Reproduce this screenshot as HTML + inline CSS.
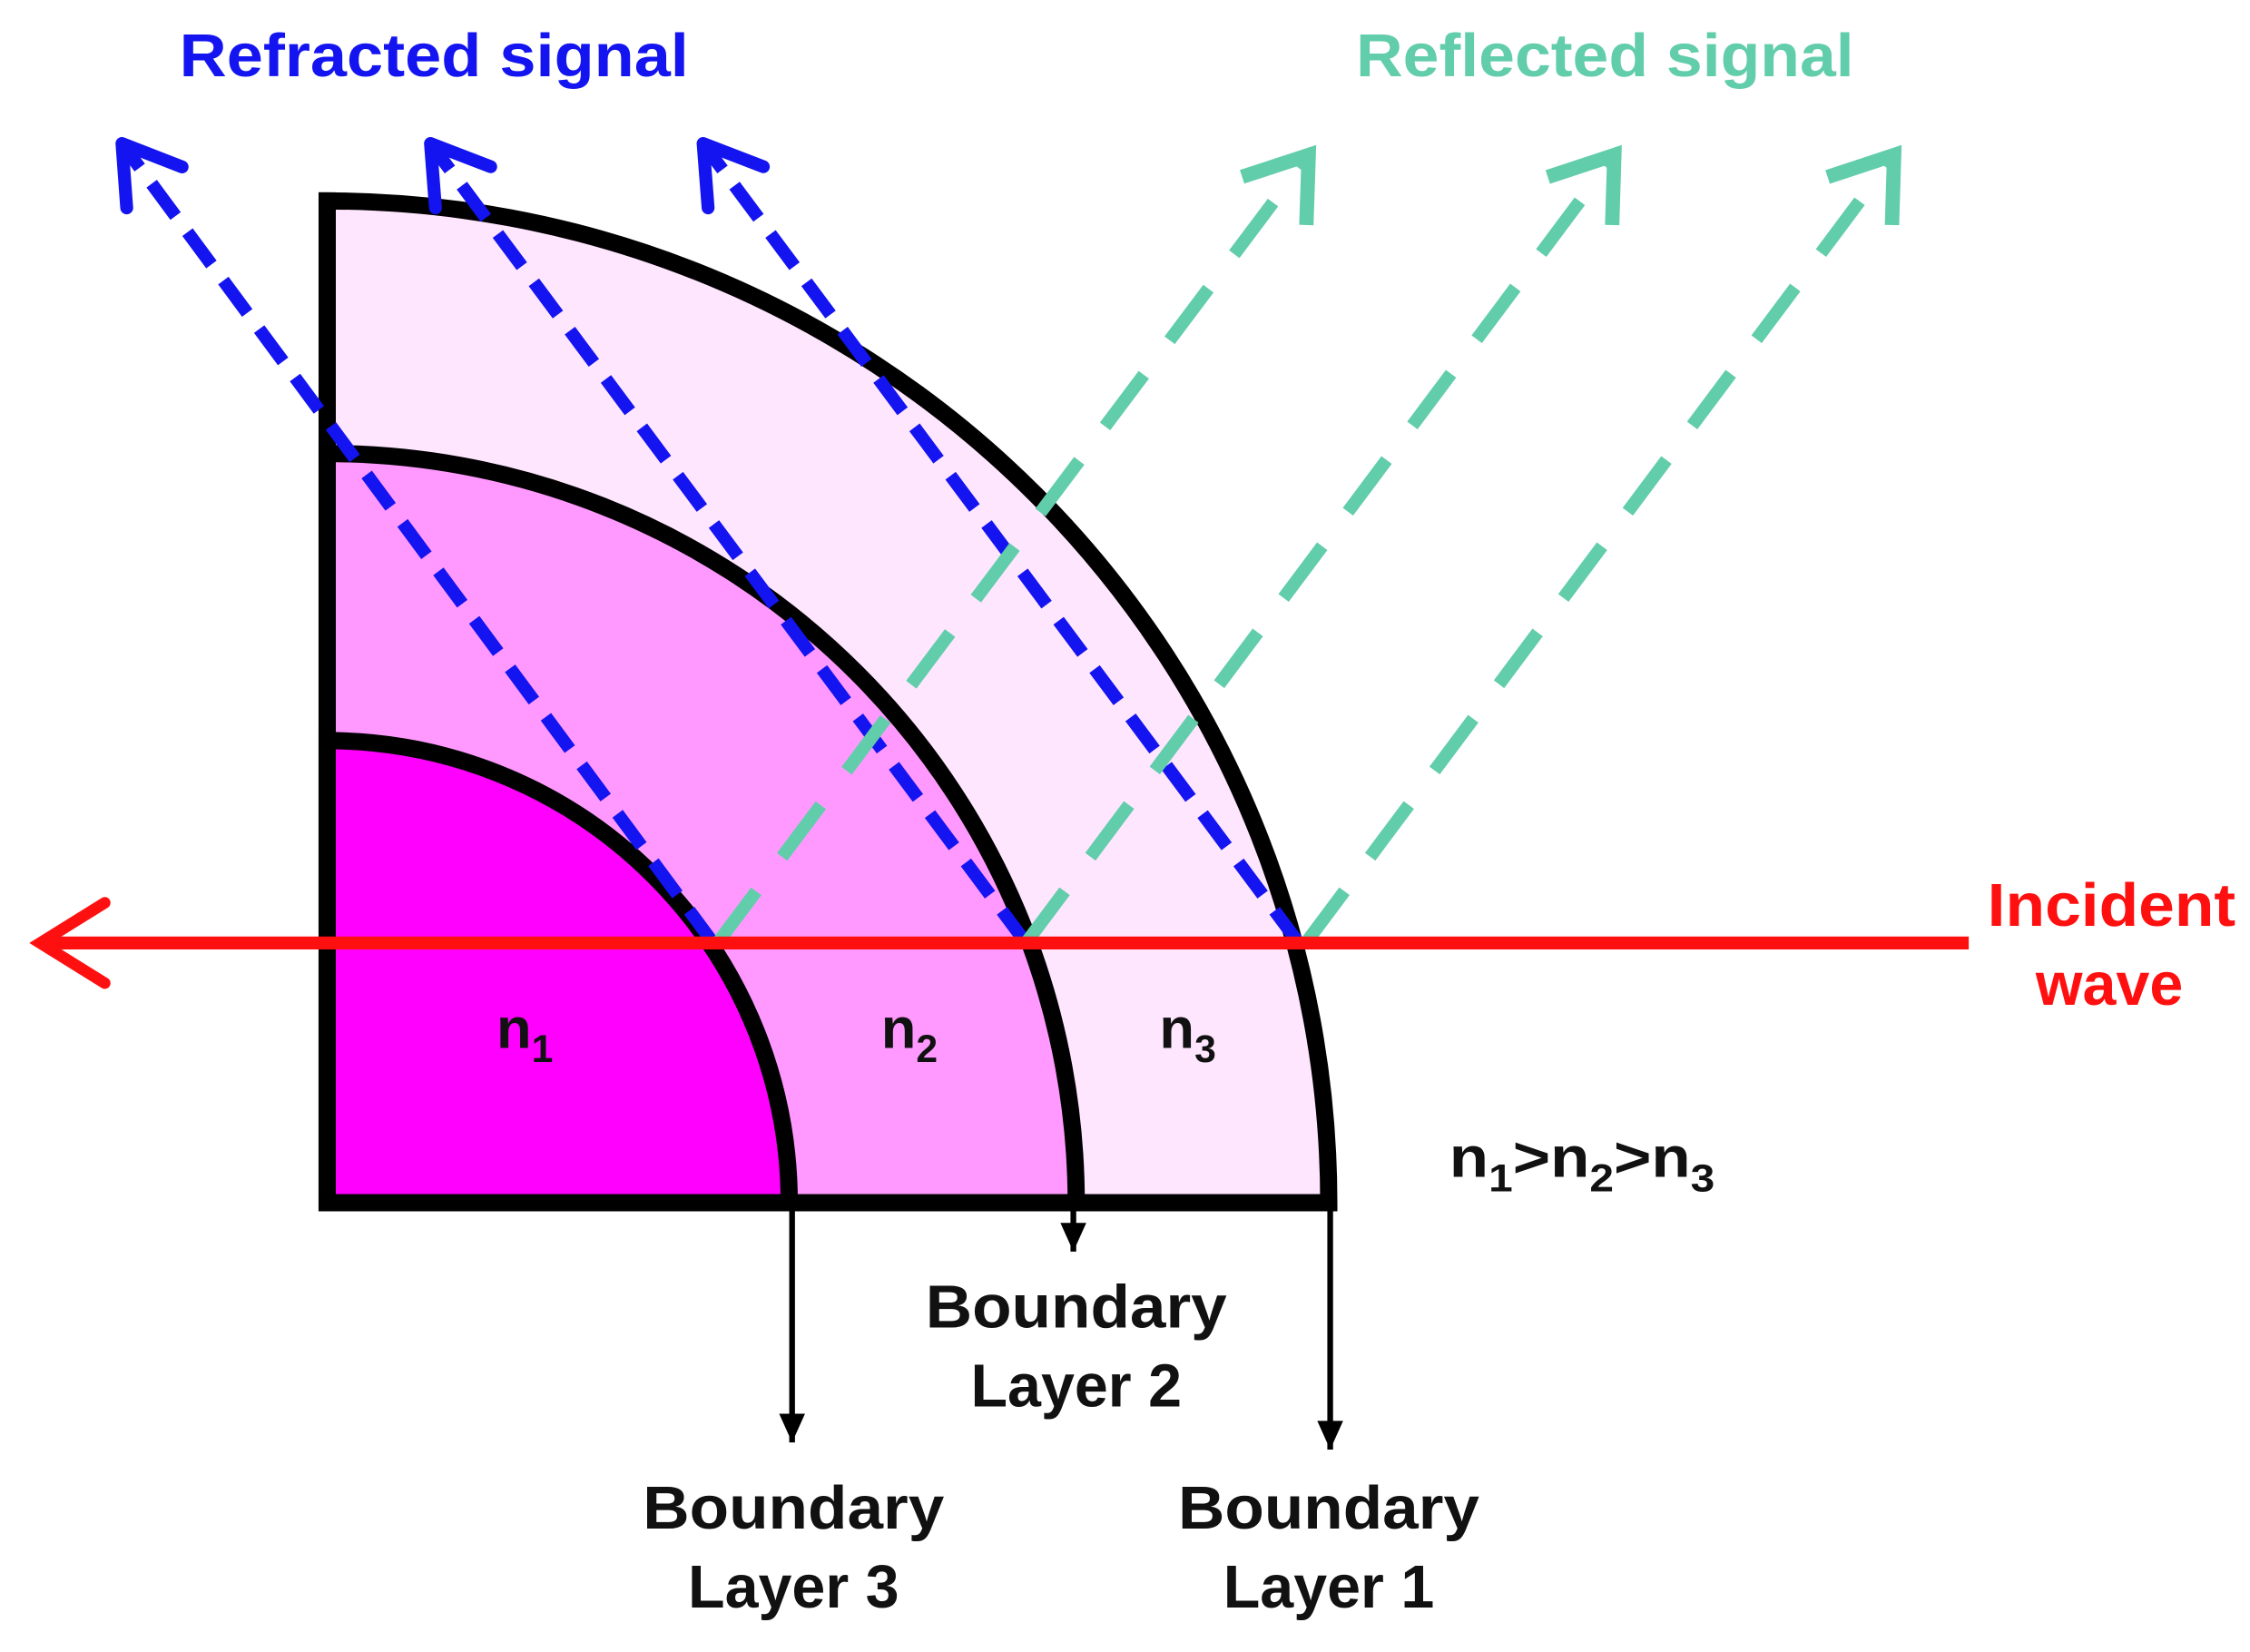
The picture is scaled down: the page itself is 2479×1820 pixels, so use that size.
<!DOCTYPE html>
<html><head><meta charset="utf-8"><style>html,body{margin:0;padding:0;background:#fff}svg{display:block}</style></head>
<body>
<svg width="2479" height="1820" viewBox="0 0 1568 1151" preserveAspectRatio="none" xmlns="http://www.w3.org/2000/svg" font-family="Liberation Sans, Arial, sans-serif" font-weight="bold">
<defs>
<marker id="mb" markerUnits="userSpaceOnUse" viewBox="-50 -40 60 80" markerWidth="60" markerHeight="80" refX="0" refY="0" orient="auto"><path d="M-38,-24 L0,0 L-38,24" fill="none" stroke="#1414f0" stroke-width="9" stroke-dasharray="none" stroke-linecap="round" stroke-linejoin="round"/></marker>
<marker id="mt" markerUnits="userSpaceOnUse" viewBox="-50 -40 60 80" markerWidth="60" markerHeight="80" refX="0" refY="0" orient="auto"><path d="M-40,-28 L0,0 L-40,28" fill="none" stroke="#62cdaa" stroke-width="10" stroke-dasharray="none" stroke-linejoin="miter"/></marker>
<marker id="mr" markerUnits="userSpaceOnUse" viewBox="-50 -40 60 80" markerWidth="60" markerHeight="80" refX="0" refY="0" orient="auto"><path d="M-45,-28 L0,0 L-45,28" fill="none" stroke="#ff1010" stroke-width="8" stroke-dasharray="none" stroke-linecap="round"/></marker>
<marker id="mk" markerUnits="userSpaceOnUse" viewBox="-30 -20 40 40" markerWidth="40" markerHeight="40" refX="0" refY="0" orient="auto"><path d="M-20,-9 L0,0 L-20,9 Z" fill="#000"/></marker>
</defs>
<path d="M228,838 L228,140 A698,698 0 0 1 926,838 Z" fill="#ffe6ff" stroke="#000" stroke-width="12" stroke-linejoin="miter"/>
<path d="M228,838 L228,316 A522,522 0 0 1 750,838 Z" fill="#ff99ff" stroke="#000" stroke-width="12"/>
<path d="M228,838 L228,516 A322,322 0 0 1 550,838 Z" fill="#ff00ff" stroke="#000" stroke-width="12"/>
<line x1="228" y1="838" x2="926" y2="838" stroke="#000" stroke-width="12"/>
<line x1="228" y1="134" x2="228" y2="844" stroke="#000" stroke-width="12"/>
<line x1="552" y1="838" x2="552" y2="1005" stroke="#000" stroke-width="4" marker-end="url(#mk)"/>
<line x1="748" y1="838" x2="748" y2="872" stroke="#000" stroke-width="4" marker-end="url(#mk)"/>
<line x1="927" y1="838" x2="927" y2="1010" stroke="#000" stroke-width="4" marker-end="url(#mk)"/>
<g stroke="#1414f0" stroke-width="9" fill="none" stroke-dasharray="28,14">
<line x1="497" y1="657" x2="85" y2="100" marker-end="url(#mb)"/>
<line x1="715" y1="657" x2="300" y2="100" marker-end="url(#mb)"/>
<line x1="905" y1="657" x2="490" y2="100" marker-end="url(#mb)"/>
</g>
<g stroke="#62cdaa" stroke-width="9" fill="none" stroke-dasharray="45,30">
<line x1="500" y1="657" x2="912" y2="108" marker-end="url(#mt)"/>
<line x1="715" y1="657" x2="1125" y2="108" marker-end="url(#mt)"/>
<line x1="910" y1="657" x2="1320" y2="108" marker-end="url(#mt)"/>
</g>
<line x1="1372" y1="657" x2="28" y2="657" stroke="#ff1010" stroke-width="9" marker-end="url(#mr)"/>
<text x="125" y="53" font-size="42" fill="#1414f0" textLength="355" lengthAdjust="spacingAndGlyphs">Refracted signal</text>
<text x="945" y="53" font-size="42" fill="#62cdaa" textLength="347" lengthAdjust="spacingAndGlyphs">Reflected signal</text>
<text x="1385" y="645" font-size="42" fill="#ff1010" textLength="173" lengthAdjust="spacingAndGlyphs">Incident</text>
<text x="1470" y="700" font-size="42" fill="#ff1010" text-anchor="middle">wave</text>
<g font-size="40" fill="#111">
<text x="346" y="730">n<tspan font-size="27" dy="10">1</tspan></text>
<text x="614" y="730">n<tspan font-size="27" dy="10">2</tspan></text>
<text x="808" y="730">n<tspan font-size="27" dy="10">3</tspan></text>
<text x="1010" y="820" textLength="185" lengthAdjust="spacingAndGlyphs">n<tspan font-size="27" dy="10">1</tspan><tspan dy="-10">&gt;n</tspan><tspan font-size="27" dy="10">2</tspan><tspan dy="-10">&gt;n</tspan><tspan font-size="27" dy="10">3</tspan></text>
</g>
<g font-size="42" fill="#111">
<text x="645" y="925" textLength="210" lengthAdjust="spacingAndGlyphs">Boundary</text><text x="750" y="980" text-anchor="middle">Layer 2</text>
<text x="448" y="1065" textLength="210" lengthAdjust="spacingAndGlyphs">Boundary</text><text x="553" y="1120" text-anchor="middle">Layer 3</text>
<text x="821" y="1065" textLength="210" lengthAdjust="spacingAndGlyphs">Boundary</text><text x="926" y="1120" text-anchor="middle">Layer 1</text>
</g>
</svg>
</body></html>
